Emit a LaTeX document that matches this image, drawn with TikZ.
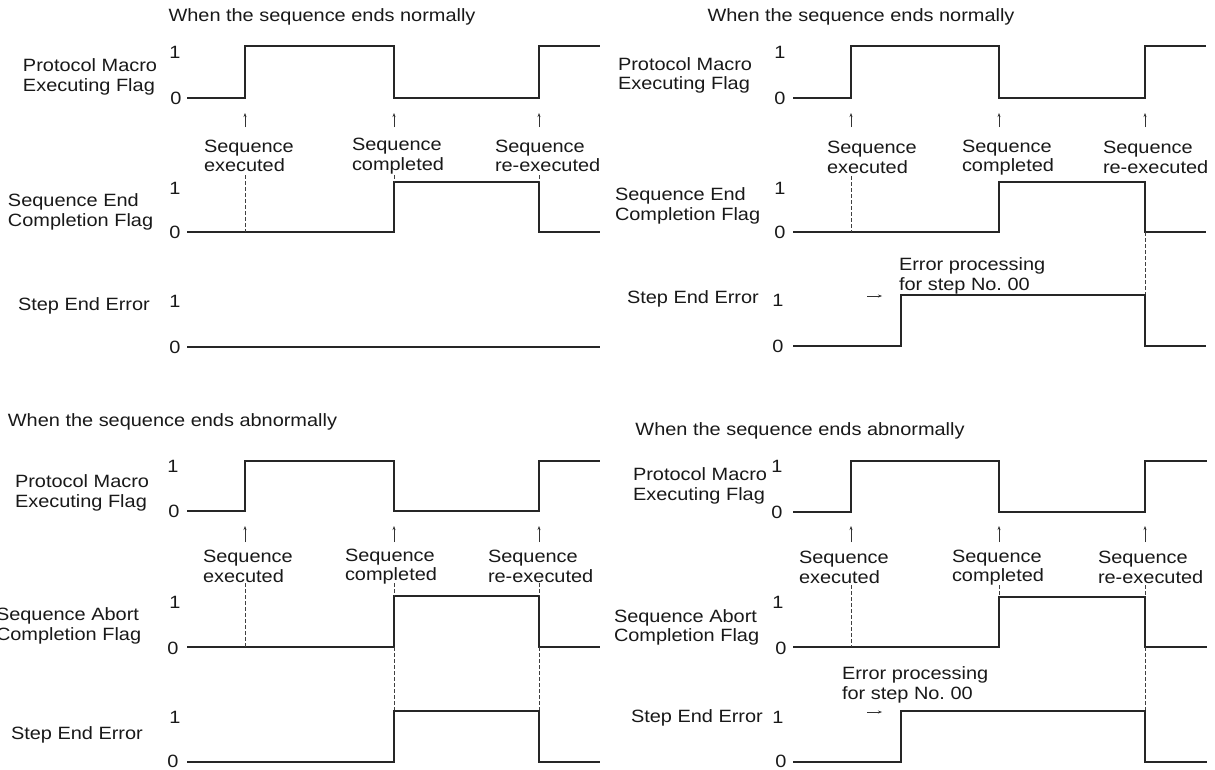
\documentclass[tikz,border=0pt]{standalone}
\usepackage{fontspec}
\setmainfont{Liberation Sans}[FakeStretch=1.12]
\usetikzlibrary{arrows.meta}
\tikzset{
  sig/.style={draw=black!85, line width=1.2pt, line join=miter},
  txt/.style={inner sep=0pt, outer sep=0pt, font=\fontsize{17.8}{19.5}\selectfont, text=black!90},
  lbl/.style={txt, anchor=west, align=left},
  dig/.style={txt, anchor=center},
  ttl/.style={txt, anchor=base},
  evarrow/.style={draw=black!80, line width=0.6pt, -{Stealth[length=4pt,width=3pt]}},
  dsh/.style={draw=black!75, line width=0.7pt, dash pattern=on 3.5pt off 2.5pt},
}
\begin{document}
\begin{tikzpicture}[x=1pt,y=-1pt]
\fill[white] (0,0) rectangle (1215,769);
\useasboundingbox (0,0) rectangle (1215,769);

% ================= TOP LEFT =================
\node[ttl] (tlT) at (322,21) {When the sequence ends normally};
\node[lbl] (tlPM) at (23,77) {Protocol Macro\\Executing Flag};
\node[dig] (tlPM1) at (175,52) {1};
\node[dig] (tlPM0) at (176,98.5) {0};
\draw[sig] (187,98) -- (245,98) -- (245,46) -- (394,46) -- (394,98) -- (539,98) -- (539,46) -- (600,46);
\coordinate (tlA1) at (245,127); \coordinate (tlB1) at (245,113);
\coordinate (tlA2) at (394,127); \coordinate (tlB2) at (394,113);
\coordinate (tlA3) at (539,127); \coordinate (tlB3) at (539,113);
\draw[evarrow] (tlA1) -- (tlB1);
\draw[evarrow] (tlA2) -- (tlB2);
\draw[evarrow] (tlA3) -- (tlB3);
\node[lbl] (tlE1) at (204,156) {Sequence\\executed};
\node[lbl] (tlE2) at (352,156) {Sequence\\completed};
\node[lbl] (tlE3) at (495,156) {Sequence\\re-executed};
\node[lbl] (tlSE) at (8,212) {Sequence End\\Completion Flag};
\node[dig] (tlSE1) at (175,188) {1};
\node[dig] (tlSE0) at (175,232.5) {0};
\draw[sig] (187,232) -- (394,232) -- (394,182) -- (539,182) -- (539,232) -- (600,232);
\draw[dsh] (245,175) -- (245,232);
\draw[dsh] (394,175) -- (394,182);
\draw[dsh] (539,175) -- (539,182);
\node[lbl] (tlSt) at (18,306) {Step End Error};
\node[dig] (tlSt1) at (175,301) {1};
\node[dig] (tlSt0) at (175,347.5) {0};
\draw[sig] (187,347) -- (600,347);

% ================= TOP RIGHT =================
\node[ttl] (trT) at (861,21) {When the sequence ends normally};
\node[lbl] (trPM) at (618,75.5) {Protocol Macro\\Executing Flag};
\node[dig] (trPM1) at (780,52) {1};
\node[dig] (trPM0) at (780,98.5) {0};
\draw[sig] (793,98) -- (851,98) -- (851,46) -- (999,46) -- (999,98) -- (1145,98) -- (1145,46) -- (1206,46);
\coordinate (trA1) at (851,127); \coordinate (trB1) at (851,113);
\coordinate (trA2) at (999,127); \coordinate (trB2) at (999,113);
\coordinate (trA3) at (1145,127); \coordinate (trB3) at (1145,113);
\draw[evarrow] (trA1) -- (trB1);
\draw[evarrow] (trA2) -- (trB2);
\draw[evarrow] (trA3) -- (trB3);
\node[lbl] (trE1) at (827,157.5) {Sequence\\executed};
\node[lbl] (trE2) at (962,157.5) {Sequence\\completed};
\node[lbl] (trE3) at (1103,157.5) {Sequence\\re-executed};
\node[lbl] (trSE) at (615,206) {Sequence End\\Completion Flag};
\node[dig] (trSE1) at (780,188) {1};
\node[dig] (trSE0) at (780,232.5) {0};
\draw[sig] (793,232) -- (999,232) -- (999,182) -- (1145,182) -- (1145,232) -- (1206,232);
\draw[dsh] (851,176) -- (851,232);
\draw[dsh] (1145,232) -- (1145,295);
\node[lbl] (trSt) at (627,299) {Step End Error};
\node[dig] (trSt1) at (778,300) {1};
\node[dig] (trSt0) at (778,346.5) {0};
\draw[sig] (793,346) -- (901,346) -- (901,295) -- (1145,295) -- (1145,346) -- (1206,346);
\node[lbl] (trEP) at (899,276) {Error processing\\for step No.\ 00};
\coordinate (trR1) at (867,296); \coordinate (trR2) at (882,296);
\draw[evarrow] (trR1) -- (trR2);

% ================= BOTTOM LEFT =================
\node[ttl] (blT) at (172.5,426) {When the sequence ends abnormally};
\node[lbl] (blPM) at (15,493) {Protocol Macro\\Executing Flag};
\node[dig] (blPM1) at (173,466) {1};
\node[dig] (blPM0) at (174,511.5) {0};
\draw[sig] (187,511) -- (245,511) -- (245,461) -- (394,461) -- (394,511) -- (539,511) -- (539,461) -- (600,461);
\coordinate (blA1) at (245,542); \coordinate (blB1) at (245,526);
\coordinate (blA2) at (394,542); \coordinate (blB2) at (394,526);
\coordinate (blA3) at (539,542); \coordinate (blB3) at (539,526);
\draw[evarrow] (blA1) -- (blB1);
\draw[evarrow] (blA2) -- (blB2);
\draw[evarrow] (blA3) -- (blB3);
\node[lbl] (blE1) at (203,566.5) {Sequence\\executed};
\node[lbl] (blE2) at (345,566.5) {Sequence\\completed};
\node[lbl] (blE3) at (488,566.5) {Sequence\\re-executed};
\node[lbl] (blSA) at (-4,626) {Sequence Abort\\Completion Flag};
\node[dig] (blSA1) at (175,602) {1};
\node[dig] (blSA0) at (173,648) {0};
\draw[sig] (187,647) -- (394,647) -- (394,596) -- (539,596) -- (539,647) -- (600,647);
\draw[dsh] (245,583) -- (245,647);
\draw[dsh] (394,583) -- (394,596);
\draw[dsh] (394,647) -- (394,711);
\draw[dsh] (539,583) -- (539,596);
\draw[dsh] (539,647) -- (539,711);
\node[lbl] (blSt) at (11,735) {Step End Error};
\node[dig] (blSt1) at (175,717) {1};
\node[dig] (blSt0) at (173,761.5) {0};
\draw[sig] (187,762) -- (394,762) -- (394,711) -- (539,711) -- (539,762) -- (600,762);

% ================= BOTTOM RIGHT =================
\node[ttl] (brT) at (800,435) {When the sequence ends abnormally};
\node[lbl] (brPM) at (633,486) {Protocol Macro\\Executing Flag};
\node[dig] (brPM1) at (777,466) {1};
\node[dig] (brPM0) at (777,512.5) {0};
\draw[sig] (793,512) -- (851,512) -- (851,461) -- (999,461) -- (999,512) -- (1145,512) -- (1145,461) -- (1207,461);
\coordinate (brA1) at (851,542); \coordinate (brB1) at (851,526);
\coordinate (brA2) at (999,542); \coordinate (brB2) at (999,526);
\coordinate (brA3) at (1145,542); \coordinate (brB3) at (1145,526);
\draw[evarrow] (brA1) -- (brB1);
\draw[evarrow] (brA2) -- (brB2);
\draw[evarrow] (brA3) -- (brB3);
\node[lbl] (brE1) at (799,567.5) {Sequence\\executed};
\node[lbl] (brE2) at (952,567.5) {Sequence\\completed};
\node[lbl] (brE3) at (1098,567.5) {Sequence\\re-executed};
\node[lbl] (brSA) at (614,627.5) {Sequence Abort\\Completion Flag};
\node[dig] (brSA1) at (778,602) {1};
\node[dig] (brSA0) at (781,648) {0};
\draw[sig] (793,647) -- (999,647) -- (999,597) -- (1145,597) -- (1145,647) -- (1207,647);
\draw[dsh] (851,585) -- (851,647);
\draw[dsh] (999,585) -- (999,597);
\draw[dsh] (1145,585) -- (1145,597);
\draw[dsh] (1145,647) -- (1145,711);
\node[lbl] (brEP) at (842,685) {Error processing\\for step No.\ 00};
\coordinate (brR1) at (867,712); \coordinate (brR2) at (882,712);
\draw[evarrow] (brR1) -- (brR2);
\node[lbl] (brSt) at (631,718) {Step End Error};
\node[dig] (brSt1) at (778,717) {1};
\node[dig] (brSt0) at (781,761.5) {0};
\draw[sig] (793,762) -- (901,762) -- (901,711) -- (1145,711) -- (1145,762) -- (1207,762);
\end{tikzpicture}
\end{document}
